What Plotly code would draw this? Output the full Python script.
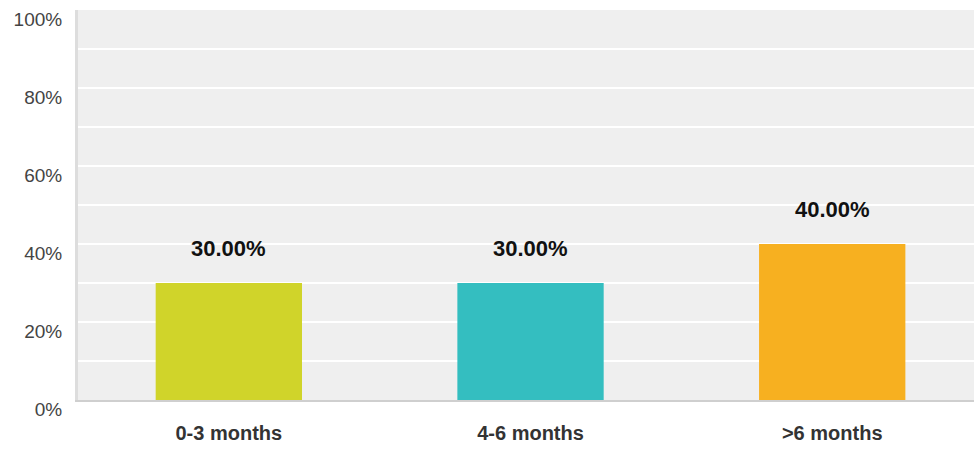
import plotly.graph_objects as go

categories = ["0-3 months", "4-6 months", ">6 months"]
values = [30.0, 30.0, 40.0]
colors = ["#D0D42A", "#34BEC0", "#F7B020"]
tick_vals = [0, 20, 40, 60, 80, 100]
tick_text = ["0%", "20%", "40%", "60%", "80%", "100%"]

font_family = "Arial, Liberation Sans, sans-serif"

fig = go.Figure()
fig.add_trace(go.Bar(
    x=categories, y=values, marker=dict(color=colors, line=dict(width=0)),
    width=0.485, hoverinfo="skip",
))

for c, v in zip(categories, values):
    fig.add_annotation(
        x=c, y=v, text=f"<b>{v:.2f}%</b>", showarrow=False,
        yshift=35, font=dict(family=font_family, size=22, color="#111111"),
    )

fig.update_layout(
    width=974, height=450,
    margin=dict(l=78, r=0, t=10, b=50, autoexpand=False),
    paper_bgcolor="white", plot_bgcolor="#EFEFEF",
    showlegend=False,
    bargap=0.5,
)
fig.update_xaxes(
    range=[-0.5, 2.47], automargin=False,
    showgrid=False, zeroline=False,
    showline=True, linecolor="#CFCFCF", linewidth=2,
    ticks="", ticklabelstandoff=14,
    tickfont=dict(family=font_family, size=20, color="#333333", weight="bold"),
)
fig.update_yaxes(
    range=[0, 100], automargin=False,
    tickvals=tick_vals, ticktext=tick_text,
    showgrid=True, gridcolor="white", gridwidth=2,
    minor=dict(dtick=10, showgrid=True, gridcolor="white", gridwidth=2),
    zeroline=False,
    showline=True, linecolor="#DDDDDD", linewidth=3,
    ticks="", ticklabelstandoff=9, ticklabelshift=9,
    tickfont=dict(family=font_family, size=19, color="#444444"),
)

fig.write_html(
    "out.html",
    config={"displayModeBar": False},
    post_script="document.body.style.margin='0';document.body.style.overflow='hidden';",
)
